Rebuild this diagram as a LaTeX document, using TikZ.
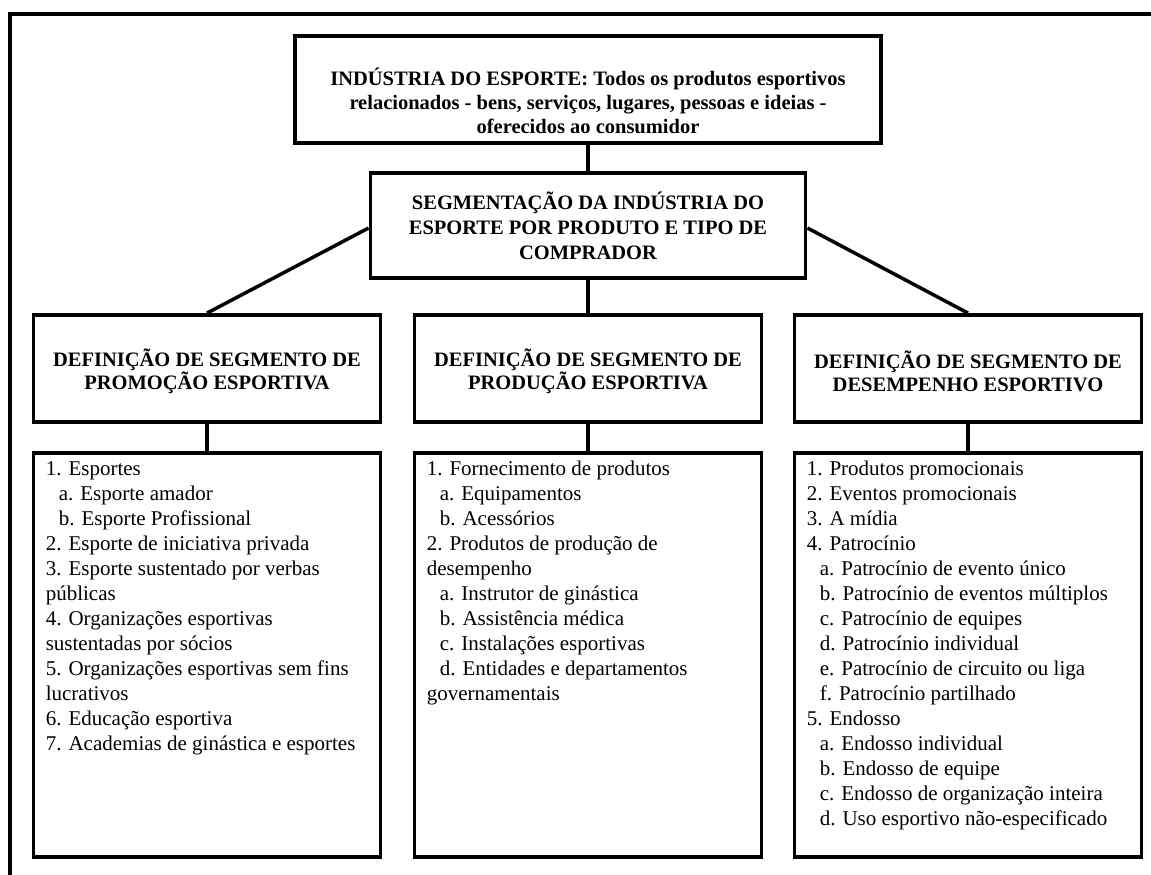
\documentclass[tikz,border=0pt]{standalone}
\usepackage{fontspec}
\setmainfont{Liberation Serif}
\begin{document}
\begin{tikzpicture}[x=1pt,y=-1pt,
  box/.style={draw=black,line width=3.8pt,fill=white,inner sep=0pt,anchor=center},
  headfont/.style={font=\fontsize{20.5}{23.5}\selectfont\bfseries,align=center,inner sep=0pt},
  listtext/.style={font=\fontsize{21}{25}\selectfont,align=left,anchor=north west,inner sep=0pt},
  link/.style={line width=3.5pt}]
\useasboundingbox (0,0) rectangle (1151,875);
% outer frame: top rule and left rule
\coordinate (frameTL) at (10,14);
\coordinate (frameTR) at (1151,14);
\coordinate (frameBL) at (10,875);
\draw[line width=4pt] (frameTR) -- (frameTL) -- (frameBL);

% header boxes
\node[box,minimum width=586pt,minimum height=107pt] (top) at (588,89.5) {};
\node[headfont,font=\fontsize{20.5}{24}\selectfont\bfseries] (topText) at ([yshift=-11pt]top.center)
  {INDÚSTRIA DO ESPORTE: Todos os produtos esportivos\\
   relacionados - bens, serviços, lugares, pessoas e ideias -\\
   oferecidos ao consumidor};
\node[box,headfont,font=\fontsize{20.5}{25}\selectfont\bfseries,minimum width=435pt,minimum height=105pt] (seg) at (588,225.5)
  {SEGMENTAÇÃO DA INDÚSTRIA DO\\ESPORTE POR PRODUTO E TIPO DE\\COMPRADOR};

% segment definition boxes
\node[box,minimum width=347pt,minimum height=107pt] (promo) at (207,368.5) {};
\node[box,minimum width=347pt,minimum height=107pt] (prod) at (588,368.5) {};
\node[box,minimum width=347pt,minimum height=107pt] (desemp) at (968,368.5) {};
\node[headfont] (promoText) at ([yshift=-3pt]promo.center) {DEFINIÇÃO DE SEGMENTO DE\\PROMOÇÃO ESPORTIVA};
\node[headfont] (prodText) at ([yshift=-3pt]prod.center) {DEFINIÇÃO DE SEGMENTO DE\\PRODUÇÃO ESPORTIVA};
\node[headfont] (desempText) at ([yshift=-3pt]desemp.center) {DEFINIÇÃO DE SEGMENTO DE\\DESEMPENHO ESPORTIVO};

% list boxes
\node[box,minimum width=347pt,minimum height=404pt] (lpromo) at (207,655) {};
\node[box,minimum width=347pt,minimum height=404pt] (lprod) at (588,655) {};
\node[box,minimum width=347pt,minimum height=404pt] (ldesemp) at (968,655) {};

\node[listtext] (lpromoText) at ([xshift=14pt,yshift=-10pt]lpromo.north west) {%
1. Esportes\\
\hspace*{13pt}a. Esporte amador\\
\hspace*{13pt}b. Esporte Profissional\\
2. Esporte de iniciativa  privada\\
3. Esporte sustentado por verbas\\
públicas\\
4. Organizações esportivas\\
sustentadas por sócios\\
5. Organizações esportivas sem fins\\
lucrativos\\
6. Educação esportiva\\
7. Academias de ginástica  e esportes};

\node[listtext] (lprodText) at ([xshift=14pt,yshift=-10pt]lprod.north west) {%
1. Fornecimento de produtos\\
\hspace*{13pt}a. Equipamentos\\
\hspace*{13pt}b. Acessórios\\
2. Produtos de produção de\\
desempenho\\
\hspace*{13pt}a. Instrutor de ginástica\\
\hspace*{13pt}b. Assistência médica\\
\hspace*{13pt}c. Instalações esportivas\\
\hspace*{13pt}d. Entidades e departamentos\\
governamentais};

\node[listtext] (ldesempText) at ([xshift=14pt,yshift=-10pt]ldesemp.north west) {%
1. Produtos promocionais\\
2. Eventos promocionais\\
3. A mídia\\
4. Patrocínio\\
\hspace*{13pt}a. Patrocínio de evento único\\
\hspace*{13pt}b. Patrocínio de eventos múltiplos\\
\hspace*{13pt}c. Patrocínio de equipes\\
\hspace*{13pt}d. Patrocínio individual\\
\hspace*{13pt}e. Patrocínio de circuito ou liga\\
\hspace*{13pt}f. Patrocínio partilhado\\
5. Endosso\\
\hspace*{13pt}a. Endosso individual\\
\hspace*{13pt}b. Endosso de equipe\\
\hspace*{13pt}c. Endosso de organização inteira\\
\hspace*{13pt}d. Uso esportivo não-especificado};

% connectors
\draw[link] (top.south) -- (seg.north);
\draw[link] ([yshift=-2.5pt]seg.west) -- (promo.north);
\draw[link] ([yshift=-2.5pt]seg.east) -- (desemp.north);
\draw[link] (seg.south) -- (prod.north);
\draw[link] (promo.south) -- (lpromo.north);
\draw[link] (prod.south) -- (lprod.north);
\draw[link] (desemp.south) -- (ldesemp.north);
\end{tikzpicture}
\end{document}
